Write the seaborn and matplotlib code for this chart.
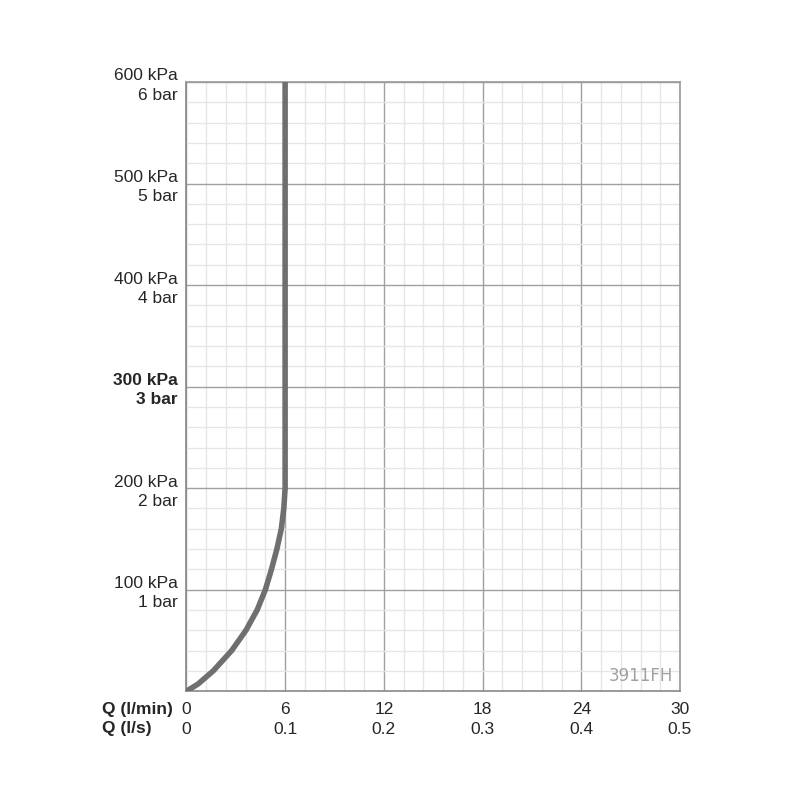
import matplotlib
matplotlib.use("Agg")
import matplotlib.pyplot as plt
import seaborn as sns
import pandas as pd
import numpy as np

# Data
flow_lpm = [0.0, 0.7, 1.63, 2.75, 3.62, 4.3, 4.8, 5.17, 5.5, 5.77, 5.92, 6.0, 6.0]
pressure_kpa = [0, 7, 20, 40, 60, 80, 100, 120, 140, 160, 180, 200, 600]
x_ticks = [0, 6, 12, 18, 24, 30]
x_ticks_ls = ["0", "0.1", "0.2", "0.3", "0.4", "0.5"]
y_ticks = [100, 200, 300, 400, 500, 600]
y_labels = ["100 kPa\n1 bar", "200 kPa\n2 bar", "300 kPa\n3 bar",
            "400 kPa\n4 bar", "500 kPa\n5 bar", "600 kPa\n6 bar"]

sns.set_style("white")
plt.rcParams['font.family'] = ['Liberation Sans', 'DejaVu Sans']

df = pd.DataFrame({"Q": flow_lpm, "p": pressure_kpa})

fig = plt.figure(figsize=(8, 8), dpi=100)
ax = fig.add_axes([0.233, 0.136, 0.617, 0.7615])

ax.set_xlim(0, 30)
ax.set_ylim(0, 600)

# grid
ax.set_xticks(np.arange(0, 30.01, 1.2), minor=True)
ax.set_yticks(np.arange(0, 600.01, 20), minor=True)
ax.grid(which="minor", color="#e6e6e6", linewidth=1.0)
ax.grid(which="major", color="#a0a0a0", linewidth=1.0)
ax.set_axisbelow(True)

sns.lineplot(data=df, x="Q", y="p", estimator=None, sort=False,
             color="#6f6f6f", linewidth=4.0, ax=ax, zorder=5,
             solid_capstyle="round", solid_joinstyle="round")

ax.set_xticks(x_ticks)
ax.set_xticklabels([f"{a}\n{b}" for a, b in zip(x_ticks, x_ticks_ls)],
                   fontsize=12.5, linespacing=1.35)
ax.set_yticks(y_ticks)
ax.set_yticklabels(y_labels, fontsize=12.5, linespacing=1.35)
for t in ax.get_yticklabels():
    t.set_ha("right")
    if t.get_text().startswith("300"):
        t.set_fontweight("bold")

ax.tick_params(axis="y", which="major", length=3.5, width=1, color="#888888",
               direction="out", pad=2.5)
ax.tick_params(axis="x", which="major", length=3, width=1, color="#888888",
               direction="out", pad=5)
ax.tick_params(axis="both", which="minor", length=0)
ax.set_xlabel("")
ax.set_ylabel("")

for side in ["left", "bottom", "right", "top"]:
    ax.spines[side].set_visible(True)
    ax.spines[side].set_color("#999999")
    ax.spines[side].set_linewidth(1.2)
ax.spines["left"].set_color("#888888")
ax.spines["bottom"].set_color("#888888")

fig.text(0.1275, 0.101, "Q (l/min)\nQ (l/s)", ha="left", va="center",
         fontsize=12.5, fontweight="bold", linespacing=1.35)

ax.text(29.6, 6, "3911FH", ha="right", va="bottom", color="#a0a0a0",
        fontsize=12, family=["DejaVu Sans"])

fig.savefig("out.png", dpi=100, facecolor="white")
